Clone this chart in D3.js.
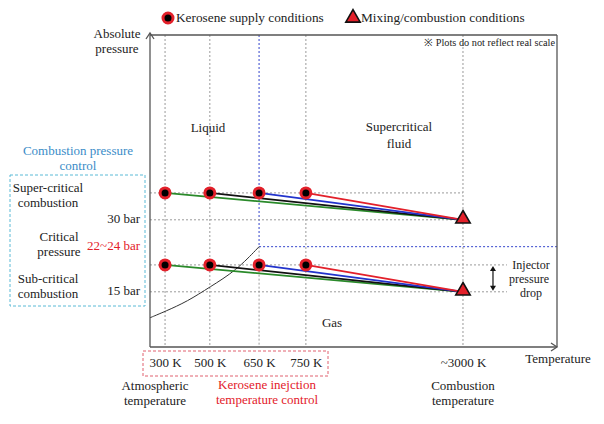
<!DOCTYPE html>
<html><head><meta charset="utf-8">
<script src="https://cdn.jsdelivr.net/npm/d3@7"></script>
<style>
body{margin:0;background:#fff}
svg{display:block}
svg text{font-family:"Liberation Serif","Times New Roman",serif}
</style>
</head><body><svg id="c" width="604" height="424"></svg>
<script>
// ---- data ----
const tempValues = [300, 500, 650, 750, 3000];
const tempLabels = ["300 K", "500 K", "650 K", "750 K", "~3000 K"];
const supplyTemps = [300, 500, 650, 750];
const seriesColors = ["#2a8a2a", "#111111", "#2233cc", "#e3202a"];
const chamberPressures = [30, 15];
const supplyPressures = [35.6, 20.6];
const combustionTemp = 3000;
const criticalT = 650, criticalP = 24.4;
const pressureTicks = [30, 24.4, 15];
const pressureLabels = ["30 bar", "22~24 bar", "15 bar"];
const satT = [233, 300, 400, 500, 580, 650];
const satP = [9.6, 10.9, 13.0, 16.0, 19.4, 24.4];
const legendLabels = ["Kerosene supply conditions", "Mixing/combustion  conditions"];

// ---- layout ----
const svg = d3.select("#c");
const L = 150, R = 557, T = 35, B = 347;
const tempFrac = [0.037, 0.147, 0.268, 0.383, 0.769];
const x = d3.scaleLinear().domain(tempValues).range(tempFrac.map(f => L + f * (R - L)));
const y = d3.scaleLinear().domain([3.5, 68.5]).range([B, T]);

const gray = "#9a9a9a";
const red = "#e3202a";

// ---- grid (dotted) ----
const grid = svg.append("g").attr("fill", "none").attr("stroke-width", 1).attr("stroke-dasharray", "2,2");
tempValues.forEach(t => {
  const top = t === criticalT ? y(criticalP) : T;
  grid.append("line").attr("x1", x(t)).attr("x2", x(t)).attr("y1", top).attr("y2", B).attr("stroke", gray);
});
grid.append("line").attr("x1", x(criticalT)).attr("x2", x(criticalT)).attr("y1", T).attr("y2", y(criticalP)).attr("stroke", "#3344cc");
grid.append("line").attr("x1", x(criticalT)).attr("x2", R).attr("y1", y(criticalP)).attr("y2", y(criticalP)).attr("stroke", "#3344cc");
[0, 1].forEach(i => {
  const xe = i === 0 ? x(combustionTemp) : x(combustionTemp) + 44;
  [supplyPressures[i], chamberPressures[i]].forEach(p => {
    grid.append("line").attr("x1", L).attr("x2", xe).attr("y1", y(p)).attr("y2", y(p)).attr("stroke", gray);
  });
});

// ---- saturation curve ----
svg.append("path")
  .datum(satT.map((t, i) => [t, satP[i]]))
  .attr("fill", "none").attr("stroke", "#333").attr("stroke-width", 1)
  .attr("d", d3.line().x(d => x(d[0])).y(d => y(d[1])).curve(d3.curveBasis));

// ---- frame & axes ----
const ax = svg.append("g").attr("stroke", "#555").attr("stroke-width", 1.3).attr("fill", "none");
ax.append("line").attr("x1", L).attr("x2", R).attr("y1", T).attr("y2", T);
ax.append("line").attr("x1", R).attr("x2", R).attr("y1", T).attr("y2", B);
ax.append("line").attr("x1", L).attr("x2", L).attr("y1", B).attr("y2", T - 2);
ax.append("line").attr("x1", L).attr("x2", R).attr("y1", B).attr("y2", B);
ax.append("path").attr("d", `M${L - 4},${T + 4}L${L},${T - 2}L${L + 4},${T + 4}`);
ax.append("path").attr("d", `M${R - 6},${B - 4}L${R},${B}L${R - 6},${B + 4}`);

// ---- series lines ----
const lines = svg.append("g").attr("fill", "none").attr("stroke-width", 1.8);
[0, 1].forEach(i => {
  supplyTemps.forEach((t, j) => {
    lines.append("line")
      .attr("x1", x(t)).attr("y1", y(supplyPressures[i]))
      .attr("x2", x(combustionTemp)).attr("y2", y(chamberPressures[i]))
      .attr("stroke", seriesColors[j]);
  });
});

// ---- markers ----
const circ = (g, cx, cy) => g.append("circle").attr("cx", cx).attr("cy", cy).attr("r", 5)
  .attr("fill", "#000").attr("stroke", red).attr("stroke-width", 3);
const tri = (g, cx, cy) => g.append("path").attr("transform", `translate(${cx},${cy})`)
  .attr("d", d3.symbol(d3.symbolTriangle, 90)()).attr("fill", red).attr("stroke", "#111").attr("stroke-width", 1.6);
const mk = svg.append("g");
[0, 1].forEach(i => {
  supplyTemps.forEach(t => circ(mk, x(t), y(supplyPressures[i])));
  tri(mk, x(combustionTemp), y(chamberPressures[i]) - 1);
});

// ---- x tick labels ----
const xAxis = svg.append("g").attr("transform", `translate(0,${B})`)
  .call(d3.axisBottom(x).tickValues(tempValues).tickFormat((d, i) => tempLabels[i]).tickSize(0).tickPadding(11));
xAxis.select(".domain").remove();
xAxis.attr("font-family", null).attr("font-size", null);
xAxis.selectAll("text").style("font-size", "13px").attr("fill", "#222");

// ---- y tick labels ----
const yAxis = svg.append("g").attr("transform", `translate(${L},0)`)
  .call(d3.axisLeft(y).tickValues(pressureTicks).tickFormat((d, i) => pressureLabels[i]).tickSize(0).tickPadding(10));
yAxis.select(".domain").remove();
yAxis.attr("font-family", null).attr("font-size", null);
yAxis.selectAll("text").style("font-size", "13px").attr("dy", "0.2em").attr("fill", d => d === criticalP ? red : "#222");

// ---- texts ----
function txt(str, tx, ty, opts = {}) {
  return svg.append("text").attr("x", tx).attr("y", ty)
    .attr("text-anchor", opts.anchor || "middle")
    .style("font-size", (opts.size || 13) + "px")
    .attr("fill", opts.fill || "#222").text(str);
}
txt("Absolute", 117, 38);
txt("pressure", 117, 53);
txt("※ Plots do not reflect real scale", 555, 46, {anchor: "end", size: 10.3});
txt("Liquid", 208, 132);
txt("Supercritical", 399, 131);
txt("fluid", 399, 148);
txt("Gas", 332, 327);
txt("Temperature", 558, 363);

const blue = "#3a8cc8";
txt("Combustion pressure", 78, 155, {fill: blue});
txt("control", 78, 170, {fill: blue});
svg.append("rect").attr("x", 10).attr("y", 175).attr("width", 135).attr("height", 131)
  .attr("fill", "none").attr("stroke", "#5bbad6").attr("stroke-width", 1).attr("stroke-dasharray", "3,2");
txt("Super-critical", 48, 192);
txt("combustion", 48, 207);
txt("Critical", 59, 241);
txt("pressure", 59, 256);
txt("Sub-critical", 48, 283);
txt("combustion", 48, 298);

svg.append("rect").attr("x", 143).attr("y", 351).attr("width", 185).attr("height", 25)
  .attr("fill", "none").attr("stroke", "#e0606e").attr("stroke-width", 1).attr("stroke-dasharray", "3,2");
txt("Atmospheric", 155, 390);
txt("temperature", 155, 405);
txt("Kerosene inejction", 267, 389, {fill: red});
txt("temperature  control", 267, 404, {fill: red});
txt("Combustion", 463, 390);
txt("temperature", 463, 405);

// injector pressure drop annotation
const ax0 = x(combustionTemp) + 30;
const arr = svg.append("g");
arr.append("line").attr("x1", ax0).attr("x2", ax0).attr("y1", y(supplyPressures[1]) + 4).attr("y2", y(chamberPressures[1]) - 4)
  .attr("stroke", "#111").attr("stroke-width", 1.2);
arr.append("path").attr("d", `M${ax0 - 3},${y(supplyPressures[1]) + 6}L${ax0},${y(supplyPressures[1]) + 1}L${ax0 + 3},${y(supplyPressures[1]) + 6}Z`).attr("fill", "#111");
arr.append("path").attr("d", `M${ax0 - 3},${y(chamberPressures[1]) - 6}L${ax0},${y(chamberPressures[1]) - 1}L${ax0 + 3},${y(chamberPressures[1]) - 6}Z`).attr("fill", "#111");
txt("Injector", 531, 269, {size: 12});
txt("pressure", 529, 283, {size: 12});
txt("drop", 531, 297, {size: 12});

// ---- legend ----
circ(svg, 168, 18);
txt(legendLabels[0], 176, 22, {anchor: "start", size: 13.3});
tri(svg, 353, 18);
txt(legendLabels[1], 361, 22, {anchor: "start", size: 13.3});
</script>
</body></html>
